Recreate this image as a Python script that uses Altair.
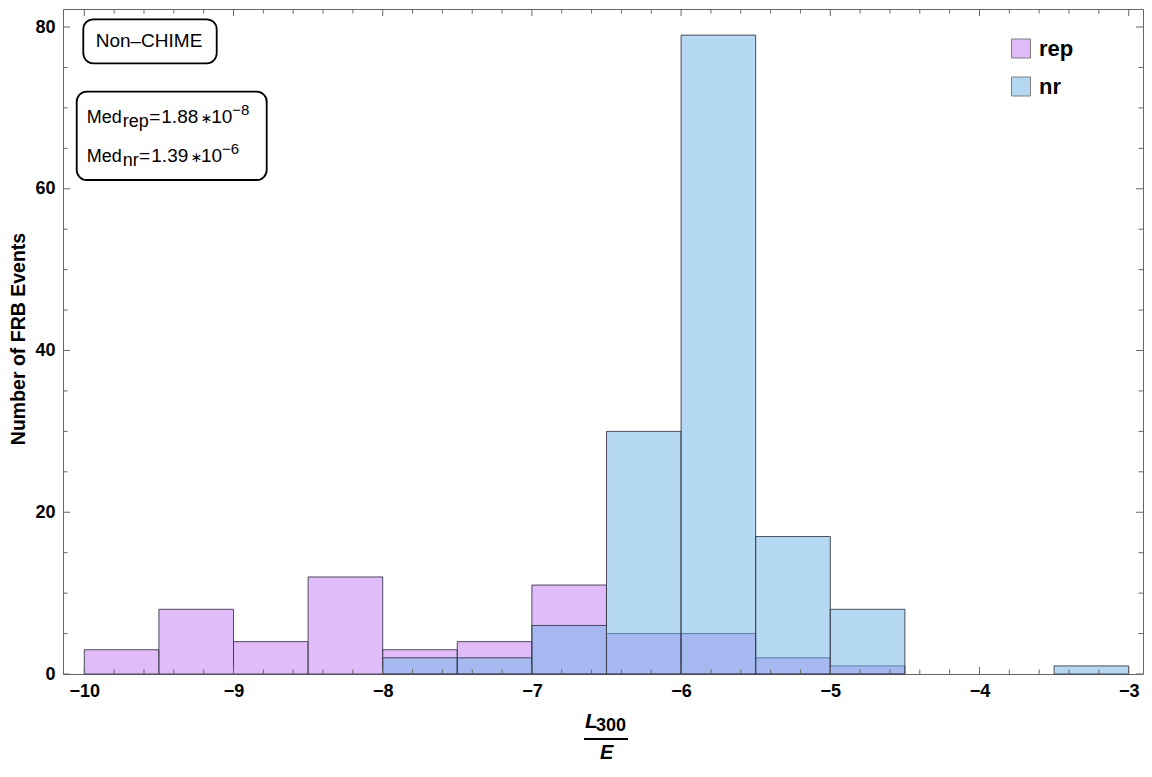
import altair as alt
import pandas as pd

# ---------------- data ----------------
bin_starts = [-10.0, -9.5, -9.0, -8.5, -8.0, -7.5, -7.0, -6.5, -6.0, -5.5, -5.0, -4.5, -4.0, -3.5]
bin_width = 0.5
rep_counts = [3, 8, 4, 12, 3, 4, 11, 5, 5, 2, 1, 0, 0, 0]
nr_counts = [0, 0, 0, 0, 2, 2, 6, 30, 79, 17, 8, 0, 0, 1]
series_names = ["rep", "nr"]
x_tick_values = [-10, -9, -8, -7, -6, -5, -4, -3]
y_tick_values = [0, 20, 40, 60, 80]
x_minor_values = [round(-10 + 0.2 * i, 1) for i in range(36) if i % 5 != 0]
y_minor_values = [5 * i for i in range(17) if i % 4 != 0]

rows = []
for name, counts in zip(series_names, [rep_counts, nr_counts]):
    for s, c in zip(bin_starts, counts):
        if c > 0:
            rows.append({"start": s, "end": s + bin_width, "count": c, "series": name})
bars_df = pd.DataFrame(rows)

# ---------------- layout ----------------
W, H = 1080, 665
FONT = "Liberation Sans"
FRAME = "#666666"

xs = alt.Scale(domain=[-10.1428, -2.904], nice=False, zero=False)
ys = alt.Scale(domain=[0, 82.23], nice=False, zero=False)

x_axis = alt.Axis(values=x_tick_values, ticks=False, tickSize=0, domain=False, grid=False,
                  labelFont=FONT, labelFontSize=18, labelFontWeight="bold", labelColor="black",
                  labelPadding=8, labelFlush=False, labelOverlap=False, format="d", title=None)
y_axis = alt.Axis(values=y_tick_values, ticks=False, tickSize=0, domain=False, grid=False,
                  labelFont=FONT, labelFontSize=18, labelFontWeight="bold", labelColor="black",
                  labelPadding=8, labelFlush=False, labelOverlap=False, format="d",
                  title="Number of FRB Events", titleFont=FONT, titleFontSize=19.5,
                  titleFontWeight="bold", titleColor="black", titleAngle=270,
                  titleX=-45, titleY=329.5, titleBaseline="middle", titleAlign="center")

color = alt.Color("series:N",
                  scale=alt.Scale(domain=series_names, range=["#C179F1", "#6BB3E7"]),
                  legend=alt.Legend(orient="none", legendX=947, legendY=28.5, title=None,
                                    symbolType="square", symbolSize=361, symbolOpacity=0.5,
                                    symbolStrokeColor="#000000", symbolStrokeWidth=1,
                                    labelFont=FONT, labelFontSize=22, labelFontWeight="bold",
                                    labelColor="black", labelOffset=7, rowPadding=14, padding=0))

bars = alt.Chart(bars_df).mark_rect(fillOpacity=0.5, stroke="#3a3a4a", strokeWidth=0.9).encode(
    x=alt.X("start:Q", scale=xs, axis=x_axis),
    x2="end:Q",
    y=alt.Y("count:Q", scale=ys, axis=y_axis),
    y2=alt.datum(0),
    color=color,
)


def xticks(vals, y0, y1):
    return alt.Chart(pd.DataFrame({"v": vals})).mark_rule(color=FRAME, strokeWidth=1).encode(
        x=alt.X("v:Q", scale=xs, axis=x_axis), y=alt.value(y0), y2=alt.value(y1))


def yticks(vals, x0, x1):
    return alt.Chart(pd.DataFrame({"v": vals})).mark_rule(color=FRAME, strokeWidth=1).encode(
        y=alt.Y("v:Q", scale=ys, axis=y_axis), x=alt.value(x0), x2=alt.value(x1))


ticks = [
    xticks(x_tick_values, H, H - 7), xticks(x_minor_values, H, H - 4.5),
    xticks(x_tick_values, 0, 7), xticks(x_minor_values, 0, 4.5),
    yticks(y_tick_values, 0, 7), yticks(y_minor_values, 0, 4.5),
    yticks(y_tick_values, W, W - 7), yticks(y_minor_values, W, W - 4.5),
]


def box(x0, x1, y0, y1):
    return alt.Chart(alt.Data(values=[{}])).mark_rect(
        cornerRadius=10, fill="white", stroke="black", strokeWidth=1.8).encode(
        x=alt.value(x0), x2=alt.value(x1), y=alt.value(y0), y2=alt.value(y1))


def txt(s, x, y, size=18, weight="normal", style="normal", font=FONT, align="left"):
    return alt.Chart(alt.Data(values=[{}])).mark_text(
        text=s, fontSize=size, fontWeight=weight, fontStyle=style, font=font,
        align=align, baseline="alphabetic", color="black").encode(
        x=alt.value(x), y=alt.value(y))


annotations = [
    box(20.3, 153.7, 10.3, 54.3),
    txt("Non–CHIME", 86, 38.3, size=19, align="center"),
    box(13.7, 203.7, 82.7, 171),
    # line 1
    txt("Med", 23.7, 114.3),
    txt("rep", 59.7, 118.3),
    txt("=", 86.3, 114.3, size=19),
    txt("1.88", 98.3, 114.3, size=19),
    txt("∗", 143.7, 114.3, size=14, font="DejaVu Sans", align="center"),
    txt("10", 148.3, 114.3, size=19),
    txt("−8", 169.3, 106.3, size=15),
    # line 2
    txt("Med", 23.7, 152.7),
    txt("nr", 59.7, 156.7),
    txt("=", 76, 152.7, size=19),
    txt("1.39", 88.3, 152.7, size=19),
    txt("∗", 133.7, 152.7, size=14, font="DejaVu Sans", align="center"),
    txt("10", 138, 152.7, size=19),
    txt("−6", 159, 144.7, size=15),
    # x-axis title: L_300 / E
    txt("L", 522, 719, size=21, weight="bold", style="italic"),
    txt("300", 533, 722.4, size=18, weight="bold"),
    alt.Chart(alt.Data(values=[{}])).mark_rule(color="black", strokeWidth=2).encode(
        x=alt.value(521), x2=alt.value(565), y=alt.value(730)),
    txt("E", 537, 750, size=20, weight="bold", style="italic"),
]

chart = alt.layer(bars, *ticks, *annotations).properties(
    width=W, height=H,
    autosize=alt.AutoSizeParams(type="none"),
    padding={"left": 55, "top": 1, "right": 1, "bottom": 90},
).configure_view(stroke=FRAME, strokeWidth=1)

chart.save("out.html", embed_options={"renderer": "svg", "actions": False})
